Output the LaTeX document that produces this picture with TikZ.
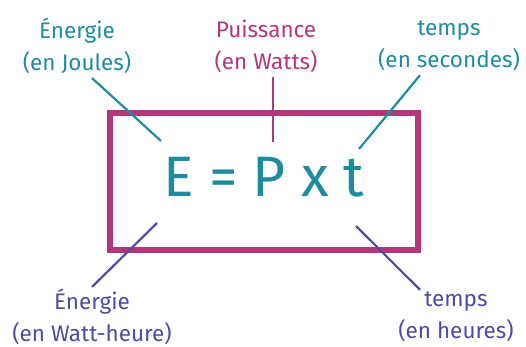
\documentclass[tikz,border=0pt]{standalone}
\usepackage{fontspec}
\setmainfont{Fira Sans}
\usetikzlibrary{positioning,calc}
\definecolor{sarcelle}{HTML}{1E8C9F}
\definecolor{prune}{HTML}{B5357A}
\definecolor{violet}{HTML}{4D4BA3}

\begin{document}
\begin{tikzpicture}[x=1pt, y=-1pt,
    label/.style={align=center, inner sep=0pt, font=\fontsize{22.5}{32}\selectfont},
    trait/.style={line width=2.2pt}]
    \useasboundingbox (0,0) rectangle (526,347);

    % cadre et formule
    \draw[prune, line width=5.5pt] (110,113) rectangle (418,250);
    \node[sarcelle, inner sep=0pt, font=\fontsize{57}{60}\selectfont] (formule) at (264,177) {E = P x t};

    % etiquettes du haut
    \node[label, sarcelle] (joules) at (77,46) {Énergie\\(en Joules)};
    \node[label, prune] (watts) at (266,46) {Puissance\\(en Watts)};
    \node[label, sarcelle] (secondes) at (449,46) {temps\\(en secondes)};

    % etiquettes du bas
    \node[label, violet] (wh) at (92,317) {Énergie\\(en Watt-heure)};
    \node[label, violet] (heures) at (456,317) {temps\\(en heures)};

    % bouts des traits dans le cadre
    \coordinate (e1) at (161,141);
    \coordinate (p1) at (273,142);
    \coordinate (t1) at (359,149);
    \coordinate (e2) at (157,223);
    \coordinate (t2) at (356,226);

    % traits
    \draw[trait, sarcelle] ($(joules.south)+(15,4)$) -- (e1);
    \draw[trait, prune] ($(watts.south)+(7,4)$) -- (p1);
    \draw[trait, sarcelle] ($(secondes.south)+(-29,4)$) -- (t1);
    \draw[trait, violet] ($(wh.north)+(0,-2)$) -- (e2);
    \draw[trait, violet] ($(heures.north)+(-36,-2)$) -- (t2);

\end{tikzpicture}
\end{document}
